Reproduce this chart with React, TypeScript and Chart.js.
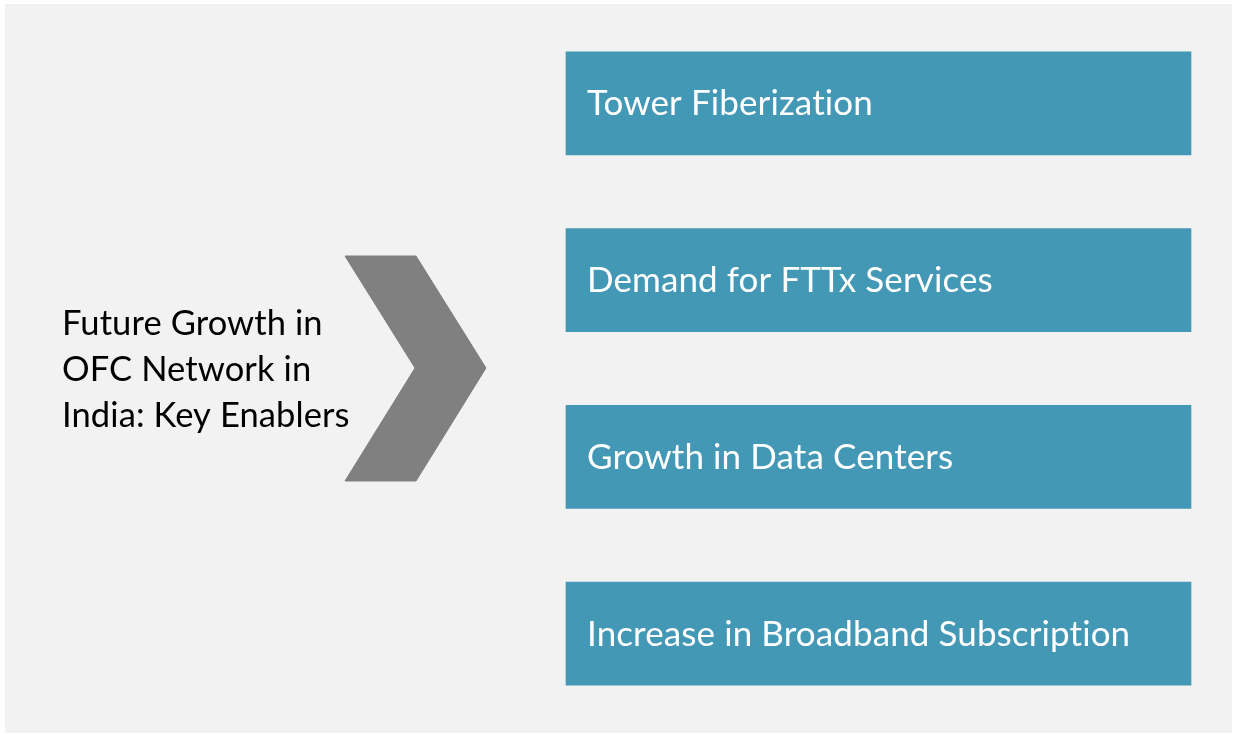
import React, { useEffect, useRef } from "react";
import { Chart, registerables } from "chart.js";

Chart.register(...registerables);

// Enabler boxes (categories), each spans the same horizontal range
const enablers = [
  "Tower Fiberization",
  "Demand for FTTx Services",
  "Growth in Data Centers",
  "Increase in Broadband Subscription",
];
const boxStart = [566, 566, 566, 566];
const boxEnd = [1191, 1191, 1191, 1191];

// Left title lines
const titleLines = ["Future Growth in", "OFC Network in", "India: Key Enablers"];

// Chevron outline (data units on the canvas-sized linear scales)
const chevronX = [345, 416, 486, 416, 345, 415, 345];
const chevronY = [256, 256, 368, 481, 481, 368, 256];

const BOX_COLOR = "#4398b6";
const CHEVRON_COLOR = "#808080";
const PANEL_COLOR = "#f2f2f2";

const decorPlugin = {
  id: "decor",
  beforeDraw(chart: any) {
    const { ctx, width, height } = chart;
    ctx.save();
    ctx.fillStyle = "#ffffff";
    ctx.fillRect(0, 0, width, height);
    ctx.fillStyle = PANEL_COLOR;
    ctx.fillRect(5, 4, width - 7, height - 6);
    ctx.restore();
  },
  afterDatasetsDraw(chart: any) {
    const { ctx } = chart;
    const meta = chart.getDatasetMeta(0);
    ctx.save();
    ctx.fillStyle = "#ffffff";
    ctx.font = "35px Lato";
    try { (ctx as any).letterSpacing = "0.1px"; } catch (e) {}
    ctx.textBaseline = "alphabetic";
    ctx.textAlign = "left";
    meta.data.forEach((bar: any, i: number) => {
      const left = Math.min(bar.x, bar.base);
      ctx.fillText(enablers[i], left + 21, bar.y + 12);
    });
    ctx.fillStyle = "#000000";
    ctx.font = "34.5px Lato";
    titleLines.forEach((line, i) => {
      ctx.fillText(line, 62, 335 + i * 46);
    });
    ctx.restore();
  },
};

export default function App() {
  const ref = useRef<HTMLCanvasElement | null>(null);
  useEffect(() => {
    if (!ref.current) return;
    const chart = new Chart(ref.current, {
      type: "bar",
      data: {
        labels: enablers,
        datasets: [
          {
            type: "bar",
            data: enablers.map((_, i) => [boxStart[i], boxEnd[i]]) as any,
            backgroundColor: BOX_COLOR,
            borderWidth: 0,
            barThickness: 103,
            grouped: false,
            xAxisID: "x",
            yAxisID: "y",
          } as any,
          {
            type: "line",
            indexAxis: "x",
            data: chevronX.map((x, i) => ({ x, y: chevronY[i] })),
            borderColor: CHEVRON_COLOR,
            backgroundColor: CHEVRON_COLOR,
            borderWidth: 1,
            pointRadius: 0,
            tension: 0,
            fill: "shape",
            clip: false,
            xAxisID: "x",
            yAxisID: "y2",
          } as any,
        ],
      },
      options: {
        indexAxis: "y",
        animation: false,
        responsive: false,
        maintainAspectRatio: false,
        layout: { padding: { top: 15, bottom: 13, left: 0, right: 0 } },
        plugins: {
          legend: { display: false },
          tooltip: { enabled: false },
          title: { display: false },
        },
        scales: {
          x: { type: "linear", min: 0, max: 1234, display: false, offset: false, beginAtZero: false },
          y: { type: "category", display: false, offset: true },
          y2: { type: "linear", min: 15, max: 722, reverse: true, display: false, offset: false, beginAtZero: false },
        },
      } as any,
      plugins: [decorPlugin],
    });
    return () => chart.destroy();
  }, []);
  return (
    <div style={{ position: "absolute", left: 0, top: 0, width: 1234, height: 735 }}>
      <canvas ref={ref} width={1234} height={735} style={{ width: 1234, height: 735, display: "block" }} />
    </div>
  );
}
